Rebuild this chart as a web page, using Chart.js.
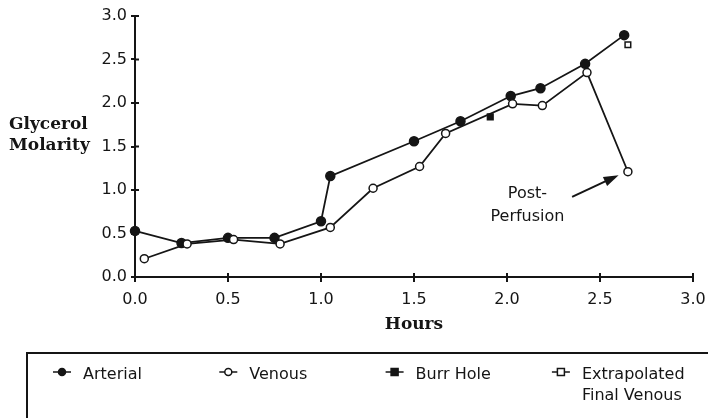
<!DOCTYPE html>
<html>
<head>
<meta charset="utf-8">
<script src="https://cdn.jsdelivr.net/npm/chart.js@4.4.0/dist/chart.umd.min.js"></script>
<style>
  html, body { margin: 0; padding: 0; background: #fff; }
  #wrap { width: 708px; height: 418px; position: relative; }
</style>
</head>
<body>
<div id="wrap"><canvas id="myChart"></canvas></div>
<script>
// values (hours, glycerol molarity)
var arterialHours = [0.0, 0.25, 0.5, 0.75, 1.0, 1.05, 1.5, 1.75, 2.02, 2.18, 2.42, 2.63];
var arterialMolarity = [0.53, 0.39, 0.45, 0.45, 0.64, 1.16, 1.56, 1.79, 2.08, 2.17, 2.45, 2.78];
var venousHours = [0.05, 0.28, 0.53, 0.78, 1.05, 1.28, 1.53, 1.67, 2.03, 2.19, 2.43, 2.65];
var venousMolarity = [0.21, 0.38, 0.43, 0.38, 0.57, 1.02, 1.27, 1.65, 1.99, 1.97, 2.35, 1.21];
var burrHours = [1.91];
var burrMolarity = [1.84];
var extrapHours = [2.65];
var extrapMolarity = [2.67];

var xTicks = [0, 0.5, 1.0, 1.5, 2.0, 2.5, 3.0];
var yTicks = [0, 0.5, 1.0, 1.5, 2.0, 2.5, 3.0];

var seriesLabels = ['Arterial', 'Venous', 'Burr Hole', 'Extrapolated\nFinal Venous'];
var yTitle = ['Glycerol', 'Molarity'];
var xTitle = 'Hours';
var noteText = ['Post-', 'Perfusion'];

var ink = '#151515';
var plainFont = '16px "DejaVu Sans", Verdana, sans-serif';
var boldFont = 'bold 17px "DejaVu Serif", serif';

function pts(xs, ys) {
    return xs.map(function (x, i) { return { x: x, y: ys[i] }; });
}

function series(label, xs, ys, style, fill, order) {
    return {
        label: label,
        data: pts(xs, ys),
        showLine: true,
        borderColor: ink,
        borderWidth: 1.8,
        pointStyle: style,
        pointRadius: fill === ink && style === 'circle' ? 4.5 : 4,
        pointBorderWidth: 1.5,
        pointBorderColor: ink,
        pointBackgroundColor: fill,
        clip: false,
        order: order
    };
}

// extra drawing: inner half of the ticks, horizontal y title, x title, legend box, note + arrow
var extras = {
    id: 'extras',
    afterDraw: function (chart) {
        var ctx = chart.ctx;
        var xs = chart.scales.x, ys = chart.scales.y;
        var area = chart.chartArea;
        ctx.save();
        ctx.strokeStyle = ink;
        ctx.lineWidth = 2;
        yTicks.forEach(function (v) {
            var py = ys.getPixelForValue(v);
            ctx.beginPath(); ctx.moveTo(area.left, py); ctx.lineTo(area.left + 4, py); ctx.stroke();
        });
        xTicks.forEach(function (v) {
            var px = xs.getPixelForValue(v);
            ctx.beginPath(); ctx.moveTo(px, area.bottom); ctx.lineTo(px, area.bottom - 4); ctx.stroke();
        });

        ctx.fillStyle = ink;
        ctx.font = boldFont;
        ctx.textAlign = 'left';
        ctx.textBaseline = 'middle';
        ctx.fillText(yTitle[0], 9, 125);
        ctx.fillText(yTitle[1], 9, 146);
        ctx.textAlign = 'center';
        ctx.fillText(xTitle, (area.left + area.right) / 2, 325);

        // legend
        ctx.lineWidth = 2;
        ctx.strokeRect(27, 353, 720, 100);
        ctx.font = plainFont;
        ctx.textAlign = 'left';
        chart.data.datasets.forEach(function (ds, i) {
            var cx = 62 + i * 166.3;
            var cy = 372;
            ctx.lineWidth = 1.5;
            ctx.beginPath(); ctx.moveTo(cx - 9, cy); ctx.lineTo(cx + 9, cy); ctx.stroke();
            ctx.fillStyle = ds.pointBackgroundColor;
            ctx.beginPath();
            if (ds.pointStyle === 'rect') {
                ctx.rect(cx - 3.5, cy - 3.5, 7, 7);
            } else {
                ctx.arc(cx, cy, 3.5, 0, Math.PI * 2);
            }
            ctx.fill(); ctx.stroke();
            ctx.fillStyle = ink;
            ds.label.split('\n').forEach(function (line, k) {
                ctx.fillText(line, cx + 21, 375 + k * 21);
            });
        });

        // post-perfusion note
        ctx.textAlign = 'center';
        ctx.fillText(noteText[0], xs.getPixelForValue(2.11), ys.getPixelForValue(0.96));
        ctx.fillText(noteText[1], xs.getPixelForValue(2.11), ys.getPixelForValue(0.69));
        var ax0 = xs.getPixelForValue(2.35), ay0 = ys.getPixelForValue(0.92);
        var ax1 = xs.getPixelForValue(2.6), ay1 = ys.getPixelForValue(1.17);
        var ang = Math.atan2(ay1 - ay0, ax1 - ax0);
        ctx.lineWidth = 2;
        ctx.beginPath(); ctx.moveTo(ax0, ay0); ctx.lineTo(ax1 - 10 * Math.cos(ang), ay1 - 10 * Math.sin(ang)); ctx.stroke();
        ctx.beginPath();
        ctx.moveTo(ax1, ay1);
        ctx.lineTo(ax1 - 15 * Math.cos(ang) + 5 * Math.sin(ang), ay1 - 15 * Math.sin(ang) - 5 * Math.cos(ang));
        ctx.lineTo(ax1 - 15 * Math.cos(ang) - 5 * Math.sin(ang), ay1 - 15 * Math.sin(ang) + 5 * Math.cos(ang));
        ctx.closePath();
        ctx.fill();
        ctx.restore();
    }
};

let myChart = new Chart(document.getElementById('myChart').getContext('2d'), {
    type: 'scatter',
    data: {
        datasets: [
            series(seriesLabels[0], arterialHours, arterialMolarity, 'circle', ink, 2),
            series(seriesLabels[1], venousHours, venousMolarity, 'circle', '#fff', 1),
            series(seriesLabels[2], burrHours, burrMolarity, 'rect', ink, 0),
            series(seriesLabels[3], extrapHours, extrapMolarity, 'rect', '#fff', 0)
        ]
    },
    options: {
        responsive: true,
        maintainAspectRatio: false,
        animation: false,
        layout: { padding: { left: 0, top: 16, right: 15, bottom: 0 } },
        plugins: {
            legend: { display: false },
            tooltip: { enabled: false }
        },
        scales: {
            x: {
                type: 'linear',
                min: 0, max: 3,
                afterBuildTicks: function (s) { s.ticks = xTicks.map(function (v) { return { value: v }; }); },
                afterFit: function (s) { s.height = 141; s.paddingRight = 0; s.paddingLeft = 0; },
                ticks: {
                    color: ink,
                    font: { family: '"DejaVu Sans", Verdana, sans-serif', size: 16 },
                    padding: 8,
                    maxRotation: 0,
                    callback: function (v) { return Number(v).toFixed(1); }
                },
                grid: { drawOnChartArea: false, tickLength: 5, color: ink, lineWidth: 2 },
                border: { color: ink, width: 2 }
            },
            y: {
                min: 0, max: 3,
                afterBuildTicks: function (s) { s.ticks = yTicks.map(function (v) { return { value: v }; }); },
                afterFit: function (s) { s.width = 135; },
                ticks: {
                    color: ink,
                    font: { family: '"DejaVu Sans", Verdana, sans-serif', size: 16 },
                    padding: 4,
                    callback: function (v) { return Number(v).toFixed(1); }
                },
                grid: { drawOnChartArea: false, tickLength: 4, color: ink, lineWidth: 2 },
                border: { color: ink, width: 2 }
            }
        }
    },
    plugins: [extras]
});
</script>
</body>
</html>
